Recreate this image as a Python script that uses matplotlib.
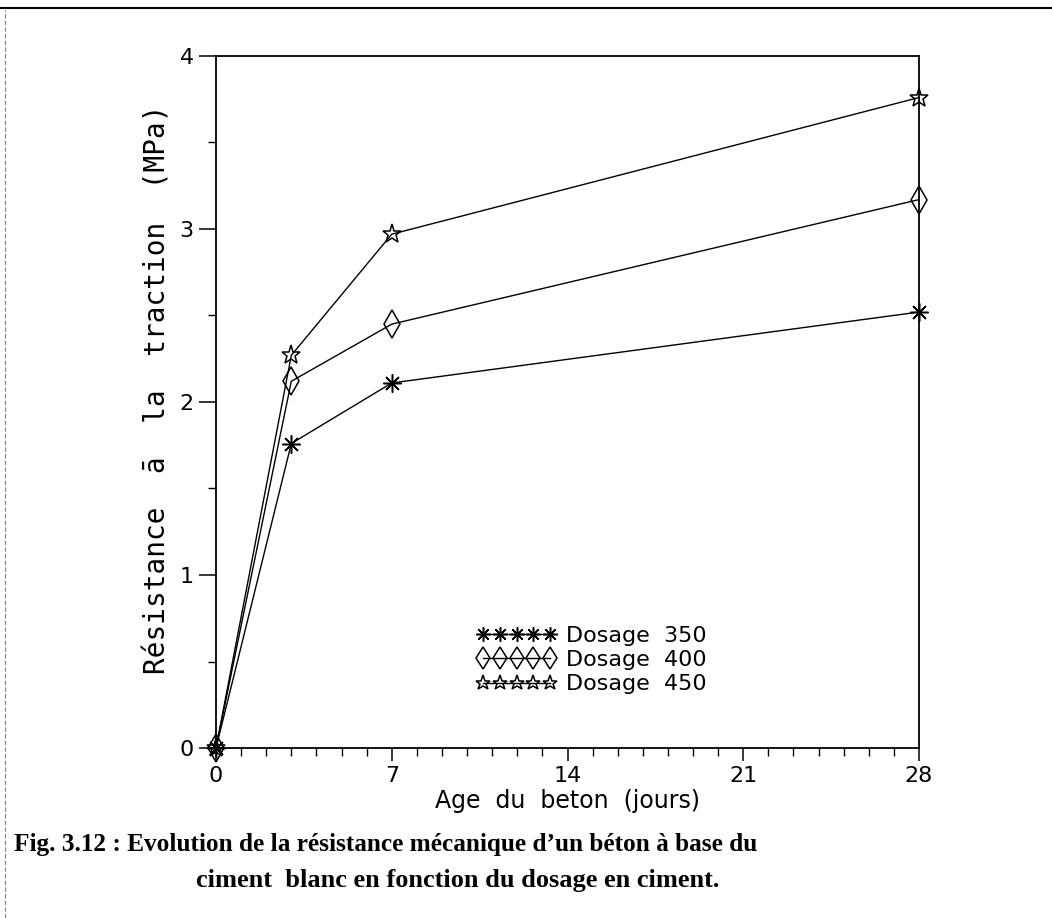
import matplotlib.pyplot as plt
from matplotlib.ticker import MultipleLocator

# --- Data ---
days = [0, 3, 7, 28]
dosage_350 = [0.0, 1.76, 2.11, 2.52]
dosage_400 = [0.0, 2.12, 2.45, 3.17]
dosage_450 = [0.0, 2.27, 2.97, 3.76]
labels = ["Dosage  350", "Dosage  400", "Dosage  450"]

fig = plt.figure(figsize=(10.52, 9.18), dpi=100)
ax = fig.add_axes([216 / 1052, 1 - 748 / 918, (919 - 216) / 1052, (748 - 56) / 918])

ax.plot(days, dosage_350, color="black", lw=1.0, marker=(8, 2, 0), ms=13,
        mew=1.1, label=labels[0], clip_on=False)
ax.plot(days, dosage_400, color="black", lw=1.0, marker="d", ms=14,
        mfc="none", mew=1.1, label=labels[1], clip_on=False)
ax.plot(days, dosage_450, color="black", lw=1.0, marker="*", ms=14,
        mfc="none", mew=1.1, label=labels[2], clip_on=False)

ax.set_xlim(0, 28)
ax.set_ylim(0, 4)
ax.xaxis.set_major_locator(MultipleLocator(7))
ax.xaxis.set_minor_locator(MultipleLocator(1))
ax.yaxis.set_major_locator(MultipleLocator(1))
ax.yaxis.set_minor_locator(MultipleLocator(0.5))
ax.tick_params(which="major", direction="out", length=9, width=1.1,
               labelsize=16, pad=4, top=False, right=False)
ax.tick_params(which="minor", direction="out", length=6, width=1.0,
               top=False, right=False)
ax.tick_params(axis="y", which="major", length=12)
for s in ax.spines.values():
    s.set_linewidth(1.3)

ax.set_xlabel("Age  du  beton  (jours)", fontsize=17, labelpad=2)
ax.set_ylabel("Résistance  ā  la  traction  (MPa)", fontsize=20,
              family="DejaVu Sans Mono")
ax.yaxis.set_label_coords(-0.064, 0.518)

ax.legend(loc="upper left", bbox_to_anchor=(0.355, 0.193), frameon=False,
          numpoints=5, handlelength=3.6, handletextpad=0.4, labelspacing=0.2,
          fontsize=16, borderpad=0, markerscale=0.8)

# caption and page borders
fig.text(14 / 1052, 1 - 845 / 918, "Fig. 3.12 : Evolution de la résistance mécanique d’un béton à base du",
         family="Liberation Serif", weight="bold", fontsize=18.2, va="center", ha="left")
fig.text(196 / 1052, 1 - 880 / 918, "ciment  blanc en fonction du dosage en ciment.",
         family="Liberation Serif", weight="bold", fontsize=19, va="center", ha="left")
fig.add_artist(plt.Line2D([0, 1], [1 - 8 / 918, 1 - 8 / 918], color="black", lw=1.5))
fig.add_artist(plt.Line2D([5 / 1052, 5 / 1052], [0, 1 - 10 / 918], color="gray",
                          lw=0.8, ls=(0, (4, 2))))

plt.savefig("out.png", dpi=100)
